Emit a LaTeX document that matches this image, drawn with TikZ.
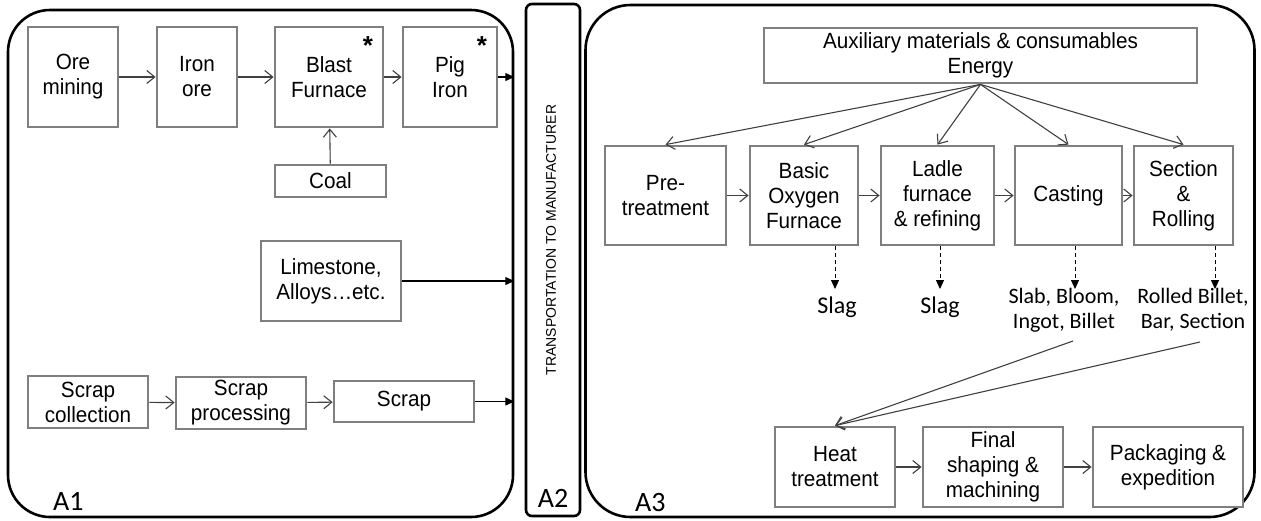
\documentclass[tikz,border=0pt]{standalone}
\usepackage{fontspec}
\setmainfont{Liberation Sans}
\newfontfamily\boxfont{Liberation Sans}[FakeStretch=0.94]
\newfontfamily\calfont{Carlito}
\usetikzlibrary{arrows.meta,calc}
\tikzset{
  box/.style={draw=boxgray, line width=2.8pt, fill=white, align=center, inner sep=0pt,
    font=\boxfont\fontsize{22}{25}\selectfont},
  outer/.style={draw=black, line width=2.6pt, inner sep=0pt},
  flow/.style={draw=linegray, line width=1.1pt, -{Straight Barb[length=8pt,width=13pt]}},
  feed/.style={draw=black, line width=1.1pt, -{Triangle[length=9pt,width=8pt]}},
  yieldarrow/.style={draw=black, line width=0.9pt, dash pattern=on 4pt off 3pt, -{Triangle[length=9pt,width=8pt]}},
  lbl/.style={font=\calfont\fontsize{22}{25}\selectfont, align=center, inner sep=0pt},
  area/.style={font=\calfont\fontsize{28}{28}\selectfont, inner sep=0pt},
  star/.style={font=\bfseries\fontsize{26}{26}\selectfont, inner sep=0pt}
}
\definecolor{boxgray}{HTML}{7F7F7F}
\definecolor{linegray}{HTML}{404040}
\begin{document}
\begin{tikzpicture}[x=1pt,y=-1pt]
\useasboundingbox (0,0) rectangle (1261,520);
% outer areas
\node[outer, rounded corners=42pt, minimum width=505, minimum height=507] (a1) at (260.5,263.5) {};
\node[outer, rounded corners=6pt, minimum width=54, minimum height=512] (a2) at (553,260) {};
\node[outer, rounded corners=45pt, minimum width=669, minimum height=512] (a3) at (920,261) {};
\node[font=\fontsize{14}{14}\selectfont, rotate=90, inner sep=0pt] (tr) at (551,240) {TRANSPORTATION TO MANUFACTURER};
\node[area, anchor=base west] (la1) at (53,510) {A1};
\node[area, anchor=base] (la2) at (553,507) {A2};
\node[area, anchor=base west] (la3) at (635,511) {A3};
% A1 boxes
\node[box, minimum width=90, minimum height=100] (ore) at (73,77) {Ore\\mining};
\node[box, minimum width=80, minimum height=100] (iron) at (197,77) {Iron\\ore};
\node[box, minimum width=108, minimum height=100] (blast) at (329,77) {Blast\\Furnace};
\node[box, minimum width=94, minimum height=100] (pig) at (450,77) {Pig\\Iron};
\node[star] (s1) at (368,46) {*};
\node[star] (s2) at (482,46) {*};
\node[box, minimum width=111, minimum height=32] (coal) at (330.5,181) {Coal};
\node[box, minimum width=140, minimum height=80] (lime) at (331,281) {Limestone,\\Alloys\ldots etc.};
\node[box, minimum width=120, minimum height=52] (sc) at (88,402) {Scrap\\collection};
\node[box, minimum width=130, minimum height=52] (sp) at (241,403) {Scrap\\processing};
\node[box, minimum width=140, minimum height=41] (scrap) at (404,401.5) {Scrap};
\draw[flow] (ore) -- (iron);
\draw[flow] (iron) -- (blast);
\draw[flow] (blast) -- (pig);
\draw[flow] (coal) -- (blast);
\draw[flow] (sc) -- (sp);
\draw[flow] (sp) -- (scrap);
\draw[feed] (pig.east) -- (pig.east -| a1.east);
\draw[feed] (lime.east) -- (lime.east -| a1.east);
\draw[feed] (scrap.east) -- (scrap.east -| a1.east);
% A3 boxes
\node[box, minimum width=433, minimum height=55] (aux) at (980.5,55.5) {Auxiliary materials \& consumables\\Energy};
\node[box, minimum width=121, minimum height=99] (pre) at (665.5,195.5) {Pre-\\treatment};
\node[box, minimum width=108, minimum height=99] (bof) at (804,195.5) {Basic\\Oxygen\\Furnace};
\node[box, minimum width=113, minimum height=99] (ladle) at (937.5,195.5) {Ladle\\furnace\\\& refining};
\node[box, minimum width=107, minimum height=99] (cast) at (1068.5,195.5) {Casting};
\node[box, minimum width=99, minimum height=99] (sect) at (1183.5,195.5) {Section\\\&\\Rolling};
\node[box, minimum width=120, minimum height=80] (heat) at (835,467) {Heat\\treatment};
\node[box, minimum width=140, minimum height=80] (final) at (993,467) {Final\\shaping \&\\machining};
\node[box, minimum width=150, minimum height=80] (pack) at (1168,467) {Packaging \&\\expedition};
\foreach \t in {pre,bof,ladle,cast,sect} \draw[flow] (aux.south) -- (\t.north);
\draw[flow] (pre) -- (bof);
\draw[flow] (bof) -- (ladle);
\draw[flow] (ladle) -- (cast);
\draw[flow] (cast) -- (sect);
\draw[flow] (heat) -- (final);
\draw[flow] (final) -- (pack);
% outputs
\node[lbl, font=\calfont\fontsize{24}{25}\selectfont, anchor=base] (slag1) at (837,313) {Slag};
\node[lbl, font=\calfont\fontsize{24}{25}\selectfont, anchor=base] (slag2) at (940,313) {Slag};
\node[lbl, anchor=base] (prod1) at (1064,328) {Slab, Bloom,\\Ingot, Billet};
\node[lbl, anchor=base] (prod2) at (1193,328) {Rolled Billet,\\Bar, Section};
\coordinate (d1) at (835,289);
\coordinate (d2) at (940,289);
\coordinate (d3) at (1075,289);
\coordinate (d4) at (1215,289);
\draw[yieldarrow] (d1 |- bof.south) -- (d1);
\draw[yieldarrow] (d2 |- ladle.south) -- (d2);
\draw[yieldarrow] (d3 |- cast.south) -- (d3);
\draw[yieldarrow] (d4 |- sect.south) -- (d4);
\coordinate (p1) at (1073,341);
\coordinate (p2) at (1200,342);
\draw[flow] (p1) -- (heat.north);
\draw[flow] (p2) -- (heat.north);
\end{tikzpicture}
\end{document}
